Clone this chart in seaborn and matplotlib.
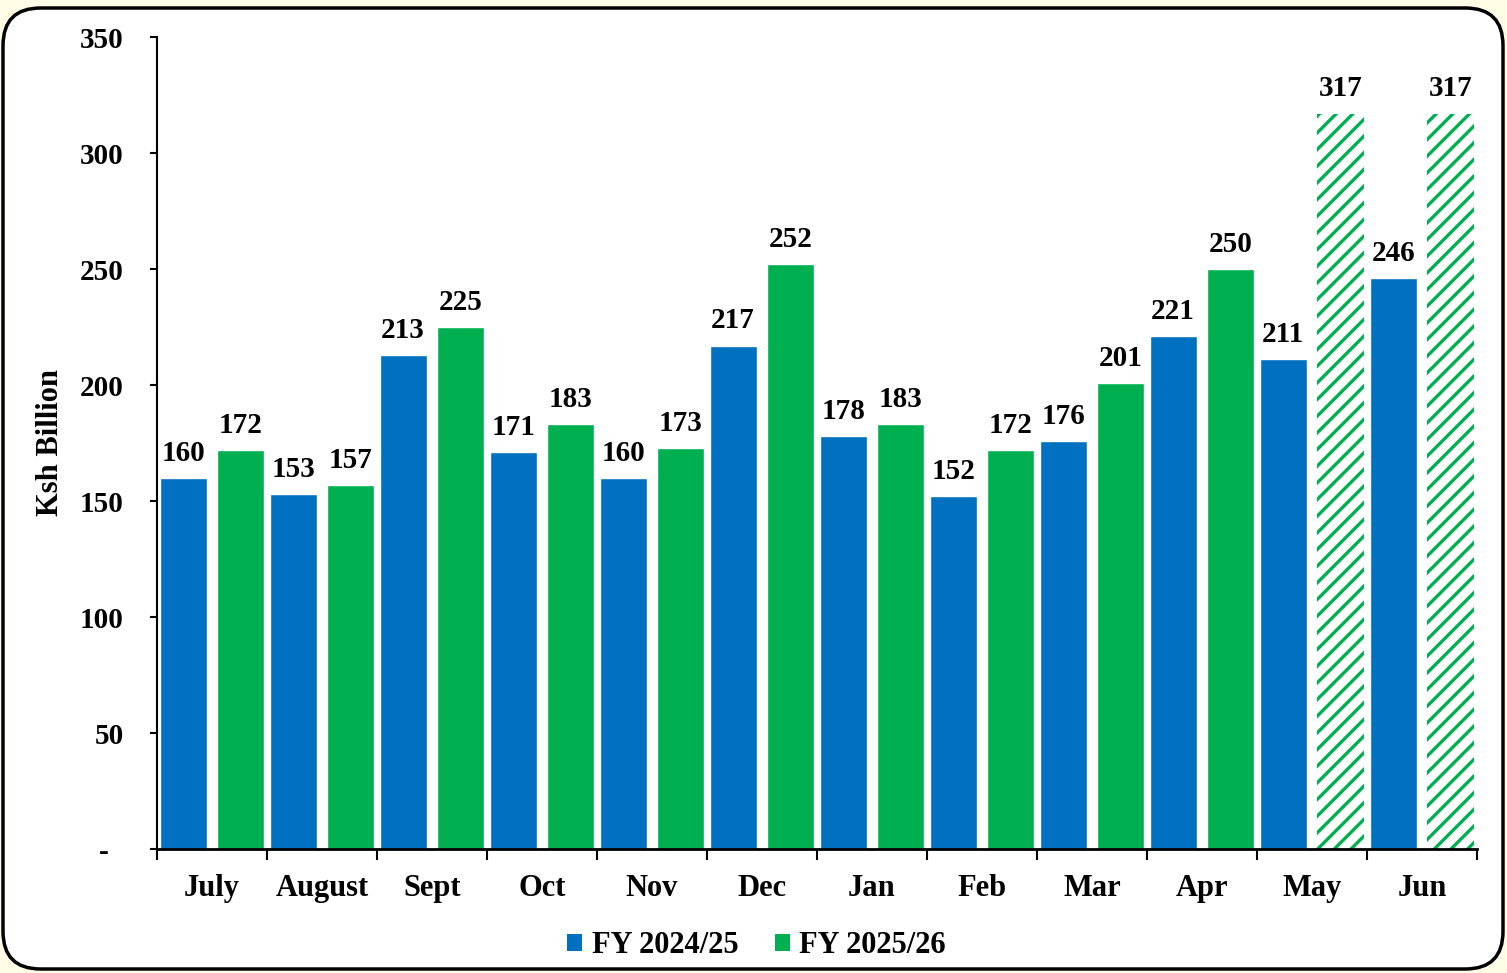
import matplotlib
matplotlib.use("Agg")
import matplotlib.pyplot as plt
from matplotlib.patches import FancyBboxPatch, Patch
import numpy as np
import pandas as pd
import seaborn as sns

# Datos
months = ['July', 'August', 'Sept', 'Oct', 'Nov', 'Dec', 'Jan', 'Feb', 'Mar', 'Apr', 'May', 'Jun']
fy_2024_25 = [160, 153, 213, 171, 160, 217, 178, 152, 176, 221, 211, 246]
fy_2025_26 = [172, 157, 225, 183, 173, 252, 183, 172, 201, 250, 317, 317]
projected = [False] * 10 + [True, True]   # barras rayadas (proyección)
series = ['FY 2024/25', 'FY 2025/26']
colors = ['#0070C0', '#00B050']

df = pd.DataFrame({
    'month': months * 2,
    'value': fy_2024_25 + fy_2025_26,
    'fy': [series[0]] * len(months) + [series[1]] * len(months),
})

sns.set_style('white')
plt.rcParams['font.family'] = ['Liberation Serif', 'DejaVu Serif']
plt.rcParams['font.weight'] = 'bold'
plt.rcParams['text.color'] = 'black'
plt.rcParams['axes.labelcolor'] = 'black'
plt.rcParams['xtick.color'] = 'black'
plt.rcParams['ytick.color'] = 'black'
plt.rcParams['hatch.linewidth'] = 2.4

fig = plt.figure(figsize=(15.07, 9.73), dpi=100)
fig.patch.set_facecolor('#FFFDE6')
box = FancyBboxPatch((3 / 1507, 4 / 973), 1500 / 1507, 961 / 973,
                     boxstyle='round,pad=0,rounding_size=0.025',
                     transform=fig.transFigure, facecolor='white',
                     edgecolor='black', linewidth=2.5, mutation_aspect=1507 / 973,
                     zorder=-5)
fig.patches.append(box)

ax = fig.add_axes([157 / 1507, 124 / 973, 1320 / 1507, 812 / 973])
ax.set_facecolor('white')
sns.barplot(data=df, x='month', y='value', hue='fy', order=months,
            hue_order=series, palette=colors, width=1.05, gap=0.19,
            saturation=1, ax=ax, legend=False)

# Barras proyectadas con rayado
for bar, proj in zip(ax.containers[1], projected):
    if proj:
        bar.set_facecolor('white')
        bar.set_edgecolor(colors[1])
        bar.set_hatch('//')
        bar.set_linewidth(0)

for cont in ax.containers:
    ax.bar_label(cont, fmt='%d', padding=8, fontsize=21, fontweight='bold', color='black')

ax.set_ylim(0, 350)
ax.set_xlim(-0.5, len(months) - 0.5)
ax.set_yticks(np.arange(0, 351, 50))
ax.set_yticklabels(['-  '] + [str(v) for v in range(50, 351, 50)])
ax.set_xticks(np.arange(len(months)))
ax.set_xticklabels(months)
ax.set_xticks(np.arange(-0.5, len(months)), minor=True)
ax.tick_params(axis='x', which='major', length=0, pad=18, labelsize=22)
ax.tick_params(axis='x', which='minor', length=8, width=1.5, direction='out', bottom=True)
ax.tick_params(axis='y', length=5, width=1.5, direction='out', left=True, pad=19, labelsize=21)
for lab in ax.get_xticklabels() + ax.get_yticklabels():
    lab.set_fontweight('bold')

ax.spines['top'].set_visible(False)
ax.spines['right'].set_visible(False)
for s in ['left', 'bottom']:
    ax.spines[s].set_color('black')
ax.spines['left'].set_linewidth(1.5)
ax.spines['bottom'].set_linewidth(2)
ax.set_xlabel('')
ax.set_ylabel('Ksh Billion', fontsize=22, fontweight='bold', labelpad=11)

handles = [Patch(facecolor=c, edgecolor='none') for c in colors]
fig.legend(handles, series, loc='center', bbox_to_anchor=(0.502, 0.028), ncol=2,
           frameon=False, prop={'size': 22, 'weight': 'bold'},
           handlelength=0.5, handleheight=0.5, handletextpad=0.3, columnspacing=1.2)

fig.savefig('out.png', dpi=100, facecolor=fig.get_facecolor())
